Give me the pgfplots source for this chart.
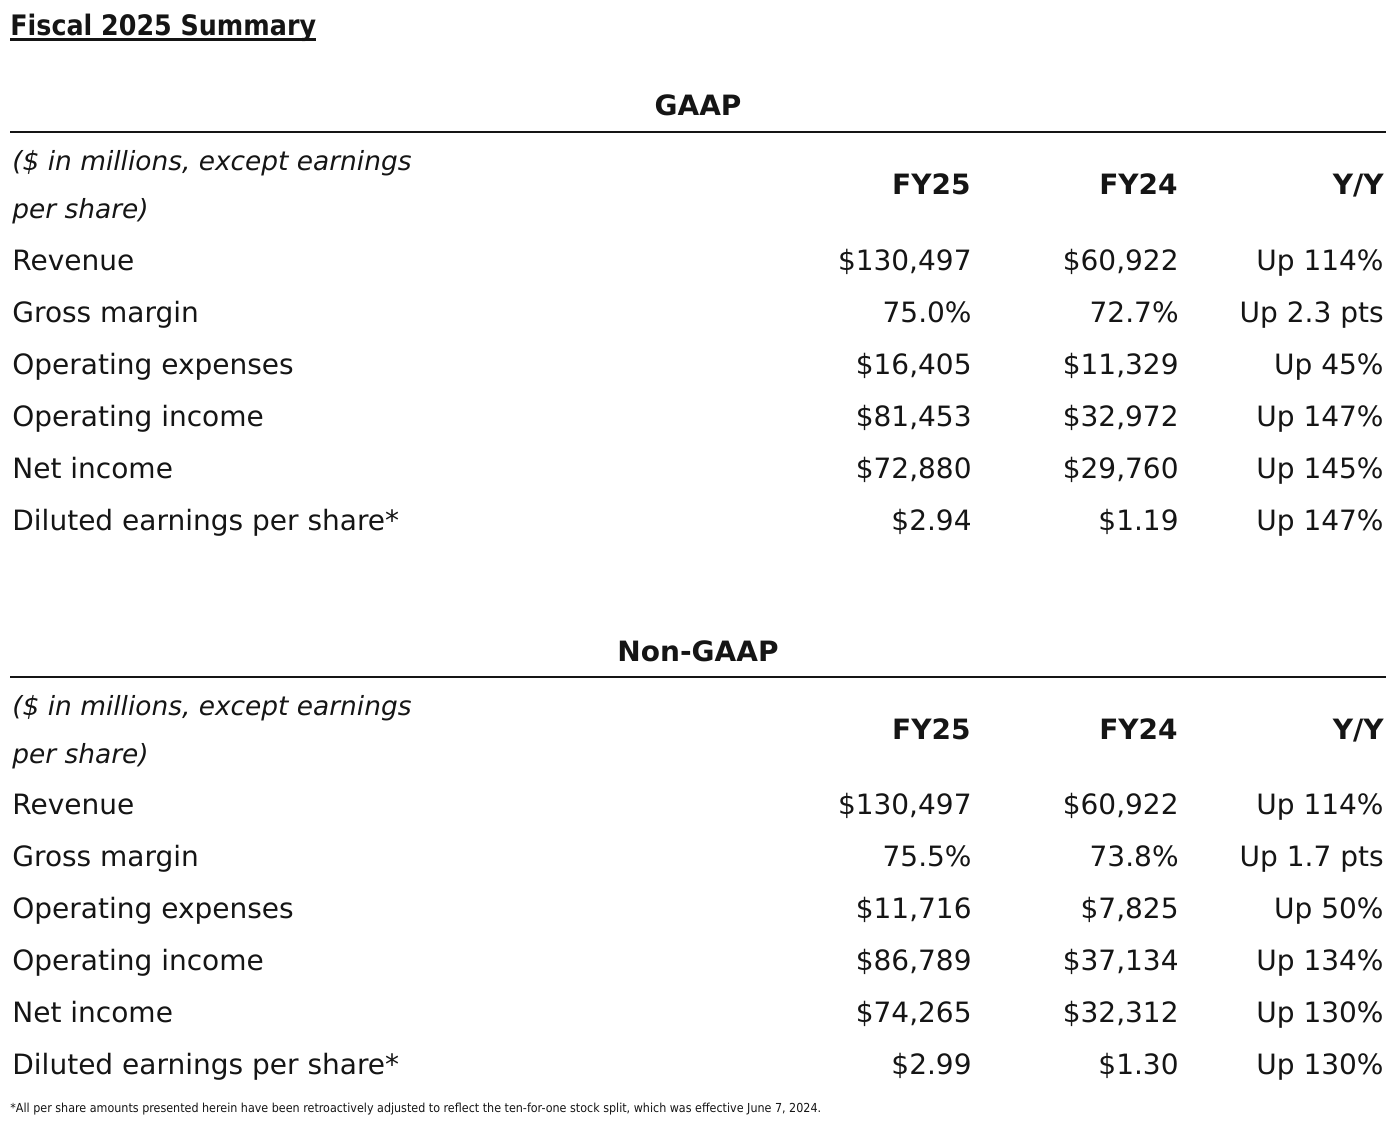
\documentclass[border=0pt]{standalone}
\usepackage{fontspec}
\setmainfont{DejaVu Sans}
\newfontfamily\condfont{DejaVu Sans Condensed}
\usepackage{pgfplots}
\usepackage{pgfplotstable}
\pgfplotsset{compat=1.18}
\definecolor{ink}{HTML}{151515}

% GAAP section: baseline y (px from top); label; FY25; FY24; Y/Y
\pgfplotstableread[col sep=semicolon]{
y;label;fya;fyb;yy
270.5;Revenue;\$130,497;\$60,922;Up 114\%
322.5;Gross margin;75.0\%;72.7\%;Up 2.3 pts
374.5;Operating expenses;\$16,405;\$11,329;Up 45\%
426.5;Operating income;\$81,453;\$32,972;Up 147\%
478.5;Net income;\$72,880;\$29,760;Up 145\%
530.5;Diluted earnings per share*;\$2.94;\$1.19;Up 147\%
}\gaap

% Non-GAAP section
\pgfplotstableread[col sep=semicolon]{
y;label;fya;fyb;yy
814.5;Revenue;\$130,497;\$60,922;Up 114\%
866.5;Gross margin;75.5\%;73.8\%;Up 1.7 pts
918.5;Operating expenses;\$11,716;\$7,825;Up 50\%
970.5;Operating income;\$86,789;\$37,134;Up 134\%
1022.5;Net income;\$74,265;\$32,312;Up 130\%
1074.5;Diluted earnings per share*;\$2.99;\$1.30;Up 130\%
}\nongaap

% column headers
\pgfplotstableread[col sep=semicolon]{
y;fya;fyb;yy
195;FY25;FY24;Y/Y
739;FY25;FY24;Y/Y
}\heads

% italic unit notes
\pgfplotstableread[col sep=semicolon]{
y;t
171;(\$ in millions, except earnings
219;per share)
715;(\$ in millions, except earnings
763;per share)
}\units

% section titles
\pgfplotstableread[col sep=semicolon]{
y;t
116;GAAP
661;Non-GAAP
}\sections

\pgfplotsset{
  txt/.style={only marks, mark=none, nodes near coords, point meta=explicit symbolic,
    every node near coord/.append style={inner sep=0pt, text=ink, font=\fontsize{14}{16}\selectfont, anchor=#1}},
}

\begin{document}
\begin{tikzpicture}
\begin{axis}[
  scale only axis, width=700pt, height=564pt,
  xmin=0, xmax=1400, ymin=0, ymax=1128, y dir=reverse,
  hide axis, clip=false,
]
% rules
\addplot[ink, line width=1.2pt] coordinates {(10,132) (1386,132)};
\addplot[ink, line width=1.2pt] coordinates {(10,677) (1386,677)};
% title underline
\addplot[ink, line width=1.2pt] coordinates {(10,39.5) (316,39.5)};

% title
\addplot[only marks, mark=none, nodes near coords, point meta=explicit symbolic,
  every node near coord/.append style={inner sep=0pt, text=ink, anchor=base west,
  font=\condfont\bfseries\fontsize{14.1}{17}\selectfont}]
  coordinates {(10,35.5) [Fiscal 2025 Summary]};

% section titles
\addplot[txt=base, every node near coord/.append style={font=\bfseries\fontsize{14}{16}\selectfont}]
  table[x expr=698, y=y, meta=t] {\sections};

% units notes
\addplot[txt=base west, every node near coord/.append style={font=\itshape\fontsize{13.2}{16}\selectfont}]
  table[x expr=12, y=y, meta=t] {\units};

% column headers
\addplot[txt=base east, every node near coord/.append style={font=\bfseries\fontsize{14}{16}\selectfont}]
  table[x expr=971, y=y, meta=fya] {\heads};
\addplot[txt=base east, every node near coord/.append style={font=\bfseries\fontsize{14}{16}\selectfont}]
  table[x expr=1178, y=y, meta=fyb] {\heads};
\addplot[txt=base east, every node near coord/.append style={font=\bfseries\fontsize{14}{16}\selectfont}]
  table[x expr=1384, y=y, meta=yy] {\heads};

% GAAP rows
\addplot[txt=base west] table[x expr=12, y=y, meta=label] {\gaap};
\addplot[txt=base east] table[x expr=972, y=y, meta=fya] {\gaap};
\addplot[txt=base east] table[x expr=1179, y=y, meta=fyb] {\gaap};
\addplot[txt=base east] table[x expr=1384, y=y, meta=yy] {\gaap};

% Non-GAAP rows
\addplot[txt=base west] table[x expr=12, y=y, meta=label] {\nongaap};
\addplot[txt=base east] table[x expr=972, y=y, meta=fya] {\nongaap};
\addplot[txt=base east] table[x expr=1179, y=y, meta=fyb] {\nongaap};
\addplot[txt=base east] table[x expr=1384, y=y, meta=yy] {\nongaap};

% footnote
\addplot[only marks, mark=none, nodes near coords, point meta=explicit symbolic,
  every node near coord/.append style={inner sep=0pt, text=ink, anchor=base west,
  font=\condfont\fontsize{6.2}{7}\selectfont}]
  coordinates {(10,1112) [{*All per share amounts presented herein have been retroactively adjusted to reflect the ten-for-one stock split, which was effective June 7, 2024.}]};
\end{axis}
\pgfresetboundingbox
\path (current axis.south west) rectangle (current axis.north east);
\end{tikzpicture}
\end{document}
